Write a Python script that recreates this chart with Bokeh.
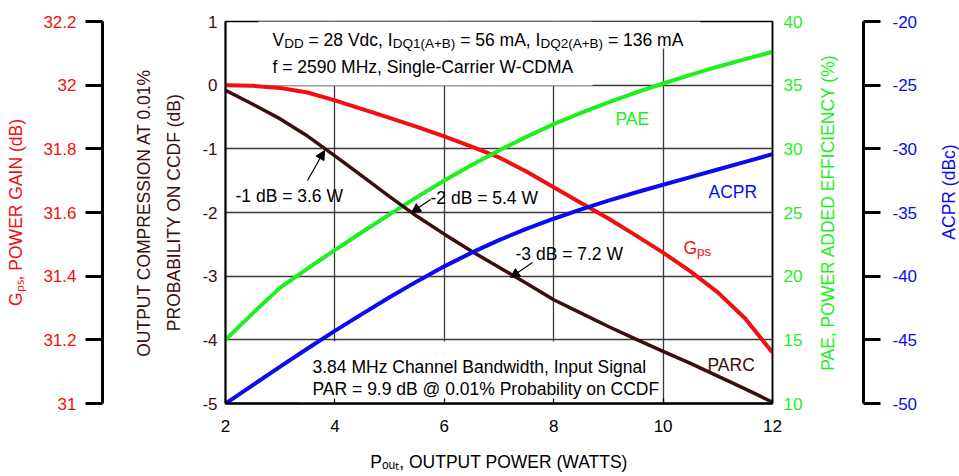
import math
from bokeh.plotting import figure
from bokeh.layouts import row
from bokeh.models import (Range1d, LinearAxis, FixedTicker, Label, Arrow, NormalHead,
                          CustomJSTickFormatter, BoxAnnotation)
from bokeh.embed import file_html
from bokeh.resources import INLINE

# ---------------- data ----------------
pout = [2, 2.5, 3, 3.5, 4, 4.5, 5, 5.5, 6, 6.5, 7, 7.5, 8, 8.5, 9, 9.5, 10, 10.5, 11, 11.5, 12]
gps = [32.000, 31.998, 31.991, 31.977, 31.952, 31.925, 31.897, 31.869, 31.839, 31.807, 31.773,
       31.729, 31.679, 31.630, 31.581, 31.528, 31.474, 31.415, 31.349, 31.267, 31.160]
parc = [-0.08, -0.30, -0.53, -0.80, -1.11, -1.43, -1.75, -2.06, -2.34, -2.61, -2.86,
        -3.11, -3.37, -3.58, -3.79, -3.99, -4.18, -4.37, -4.57, -4.77, -4.98]
pae = [15.0, 17.1, 19.1, 20.6, 22.05, 23.47, 24.85, 26.21, 27.51, 28.73, 29.87,
       30.94, 31.94, 32.82, 33.64, 34.41, 35.13, 35.81, 36.45, 37.05, 37.62]
acpr = [-50.0, -48.55, -47.10, -45.68, -44.30, -42.96, -41.66, -40.41, -39.23, -38.15, -37.17,
        -36.29, -35.49, -34.75, -34.07, -33.43, -32.82, -32.22, -31.62, -31.02, -30.42]

x_ticks = [2, 4, 6, 8, 10, 12]
parc_ticks = [-5, -4, -3, -2, -1, 0, 1]
gps_ticks = [31.0, 31.2, 31.4, 31.6, 31.8, 32.0, 32.2]
pae_ticks = [10, 15, 20, 25, 30, 35, 40]
acpr_ticks = [-50, -45, -40, -35, -30, -25, -20]

RED = "#f01010"
GREEN = "#1ef01e"
BLUE = "#0b0bf0"
BROWN = "#3c0f0f"
TICK_FONT = "Liberation Sans"
TXT_FONT = "Liberation Sans"
TS = 17.5    # main text size (px)
SS = 13.5    # subscript size (px)
NB = "\u00a0"

H = 475
W_MAIN, W_MID, W_END = 805, 125, 29    # total 959
FL, FR, FT, FB = 225, 772, 21, 403     # main frame in page pixels
BLUE_LINE = 863                         # x of the ACPR axis line

# Arial / Liberation Sans advance widths (per 1000 em)
AW = {' ': 278, NB: 278, '%': 889, '(': 333, ')': 333, '+': 584, ',': 278, '-': 333, '.': 278,
      '=': 584, '@': 1015, 'A': 667, 'B': 667, 'C': 722, 'D': 722, 'E': 667, 'G': 778, 'I': 278,
      'M': 833, 'N': 722, 'O': 778, 'P': 667, 'Q': 778, 'R': 722, 'S': 667, 'T': 611, 'U': 722,
      'V': 667, 'W': 944, 'a': 556, 'c': 500, 'd': 556, 'm': 833, 'o': 556, 'p': 556, 's': 500,
      't': 278, 'u': 556}


def tw(s, size):
    return sum(AW.get(c, 556) for c in s) / 1000.0 * size


def X(px):
    return 2 + (px - FL) * 10.0 / (FR - FL)


def Y(py):
    return 1 - (py - FT) * 6.0 / (FB - FT)


fmt = CustomJSTickFormatter(code="return (Math.round(tick*10)/10).toString();")


def blank(fig):
    fig.background_fill_color = "white"
    fig.border_fill_color = "white"


def title_style(ax, text, color, standoff):
    ax.axis_label = text
    ax.axis_label_text_font = TXT_FONT
    ax.axis_label_text_font_size = f"{TS}px"
    ax.axis_label_text_font_style = "normal"
    ax.axis_label_text_color = color
    ax.axis_label_standoff = standoff


def side_axis(color, ticks, tick_out, line_w, standoff, rng=None):
    kw = dict(y_range_name=rng) if rng else {}
    return LinearAxis(ticker=FixedTicker(ticks=ticks), formatter=fmt,
                      major_label_text_font=TICK_FONT, major_label_text_font_size="17px",
                      major_label_text_color=color, major_label_standoff=standoff,
                      major_tick_out=tick_out, major_tick_in=0, major_tick_line_width=line_w,
                      major_tick_line_color="black", minor_tick_line_color=None,
                      axis_line_width=line_w, axis_line_color="black", **kw)


def spacer(width):
    return LinearAxis(y_range_name="sp", ticker=FixedTicker(ticks=[]), axis_line_color=None,
                      major_tick_line_color=None, minor_tick_line_color=None,
                      major_label_standoff=0, major_tick_out=0, major_tick_in=0,
                      axis_label=" ", axis_label_standoff=width,
                      axis_label_text_font_size="1px")


# ================= main figure =================
p = figure(width=W_MAIN, height=H, output_backend="svg", toolbar_location=None,
           x_range=Range1d(2, 12), y_range=Range1d(-5, 1),
           min_border_left=FL, min_border_right=W_MAIN - FR, min_border_top=FT,
           min_border_bottom=H - FB)
p.extra_y_ranges = {"gps": Range1d(31, 32.2), "pae": Range1d(10, 40), "sp": Range1d(0, 1)}
blank(p)
p.outline_line_color = "black"
p.outline_line_width = 1.5

p.xgrid.ticker = FixedTicker(ticks=x_ticks)
p.ygrid.ticker = FixedTicker(ticks=parc_ticks)
for g in (p.xgrid, p.ygrid):
    g.grid_line_color = "#3a3a3a"
    g.grid_line_width = 1.3

# white panels behind the header and footer notes (hide the grid there)
for l, r, t, b in [(258, 700, 21, 48), (258, 592, 21, 85), (300, 655, 341, 403)]:
    p.add_layout(BoxAnnotation(left=X(l), right=X(r), top=Y(t), bottom=Y(b),
                               fill_color="white", fill_alpha=1.0, line_color=None,
                               level="underlay"))

xa = p.xaxis[0]
xa.ticker = FixedTicker(ticks=x_ticks)
xa.formatter = fmt
xa.major_label_text_font = TICK_FONT
xa.major_label_text_font_size = "17px"
xa.major_label_text_color = "black"
xa.major_label_standoff = 16
xa.axis_line_width = 2.5
xa.major_tick_in = 5
xa.major_tick_out = 0
xa.major_tick_line_width = 1.3
xa.minor_tick_line_color = None
title_style(xa, "P\u2092\u1d64\u209c, OUTPUT POWER (WATTS)", "black", 17)

ya = p.yaxis[0]
ya.ticker = FixedTicker(ticks=parc_ticks)
ya.formatter = fmt
ya.major_label_text_font = TICK_FONT
ya.major_label_text_font_size = "17px"
ya.major_label_text_color = BROWN
ya.major_label_standoff = 8
ya.major_tick_in = 0
ya.major_tick_out = 0
ya.minor_tick_line_color = None
ya.axis_line_width = 2
title_style(ya, "OUTPUT COMPRESSION AT 0.01%\nPROBABILITY ON CCDF (dB)", BROWN, 15)
ya.axis_label_text_line_height = 1.5

red_ax = side_axis(RED, gps_ticks, 17, 3, 9, rng="gps")
title_style(red_ax, "G\u209a\u209b, POWER GAIN (dB)", RED, 14)
p.add_layout(spacer(25), "left")
p.add_layout(red_ax, "left")

green_ax = side_axis(GREEN, pae_ticks, 0, 1.5, 11, rng="pae")
p.add_layout(green_ax, "right")

p.line(pout, gps, y_range_name="gps", line_color=RED, line_width=4)
p.line(pout, pae, y_range_name="pae", line_color=GREEN, line_width=4)
p.line(pout, parc, line_color=BROWN, line_width=3.5)

# ================= middle strip: PAE title + ACPR axis =================
mid_frame = BLUE_LINE - W_MAIN
s = figure(width=W_MID, height=H, output_backend="svg", toolbar_location=None,
           x_range=Range1d(0, 1), y_range=Range1d(-50, -20),
           x_axis_location=None, y_axis_location=None,
           min_border_left=0, min_border_right=W_MID - mid_frame, min_border_top=FT,
           min_border_bottom=H - FB)
blank(s)
s.outline_line_color = None
s.grid.visible = False
blue_ax = side_axis(BLUE, acpr_ticks, 17, 3, 12)
s.add_layout(blue_ax, "right")
# the ACPR curve lives on the main plot but uses the ACPR scale of this strip
p.extra_y_ranges["acpr"] = s.y_range
p.line(pout, acpr, y_range_name="acpr", line_color=BLUE, line_width=4)

s.add_layout(Label(x=(827 - W_MAIN) / mid_frame, y=-50 + (FB - (FT + FB) / 2) * 30.0 / (FB - FT),
                   text="PAE, POWER ADDED EFFICIENCY (%)", text_font=TXT_FONT,
                   text_font_size=f"{TS}px", text_color=GREEN, text_align="center",
                   text_baseline="middle", angle=math.pi / 2))

# ================= end strip: ACPR title =================
t = figure(width=W_END, height=H, output_backend="svg", toolbar_location=None,
           x_range=Range1d(0, 1), y_range=Range1d(0, 1),
           x_axis_location=None, y_axis_location=None,
           min_border_left=0, min_border_right=0, min_border_top=0, min_border_bottom=0)
blank(t)
t.outline_line_color = None
t.grid.visible = False
t.add_layout(Label(x=(948 - W_MAIN - W_MID) / W_END, y=1 - ((FT + FB) / 2) / H,
                   text="ACPR (dBc)", text_font=TXT_FONT, text_font_size=f"{TS}px",
                   text_color=BLUE, text_align="center", text_baseline="middle",
                   angle=math.pi / 2))

# ================= texts inside the main frame =================
DY = -6  # baseline correction


def lab(text, px, py, color="black", size=TS):
    p.add_layout(Label(x=X(px), y=Y(py + DY), text=text, text_font=TXT_FONT,
                       text_font_size=f"{size}px", text_color=color, text_align="left",
                       text_baseline="alphabetic"))


def chain(pieces, px, py, color="black"):
    for text, size, dy in pieces:
        lab(text, px, py + dy, color, size)
        px += tw(text, size)


chain([("V", TS, 0), ("DD", SS, 4), (NB + "= 28 Vdc, I", TS, 0), ("DQ1(A+B)", SS, 4),
       (NB + "= 56 mA, I", TS, 0), ("DQ2(A+B)", SS, 4), (NB + "= 136 mA", TS, 0)],
      272, 45)
lab("f = 2590 MHz, Single-Carrier W-CDMA", 272, 72)

lab("3.84 MHz Channel Bandwidth, Input Signal", 312, 372)
lab("PAR = 9.9 dB @ 0.01% Probability on CCDF", 312, 394)

lab("PAE", 615, 124, GREEN)
lab("ACPR", 708, 197, BLUE)
chain([("G", TS, 0), ("ps", SS, 4)], 683, 253, RED)
lab("PARC", 707, 370, BROWN)

lab("-1 dB = 3.6 W", 235, 201)
lab("-2 dB = 5.4 W", 430, 203)
lab("-3 dB = 7.2 W", 515, 259)
for x0, y0, x1, y1 in [(307, 180, 324, 150), (430, 199, 411, 212), (532, 262, 510, 277)]:
    p.add_layout(Arrow(end=NormalHead(size=9, fill_color="black", line_color="black"),
                       x_start=X(x0), y_start=Y(y0), x_end=X(x1), y_end=Y(y1),
                       line_color="black", line_width=1.2))

layout = row(p, s, t, spacing=0)
open("out.html", "w").write(file_html(layout, INLINE))
